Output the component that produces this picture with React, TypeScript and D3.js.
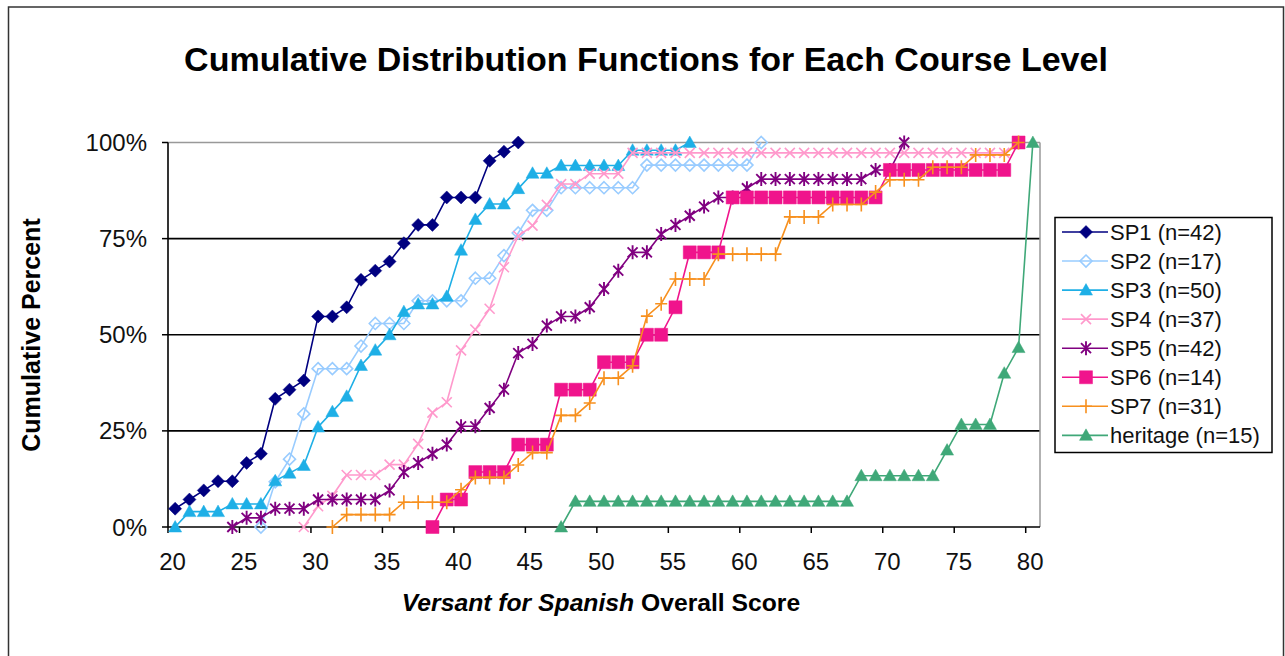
import React from 'react'
import * as d3 from 'd3'

// ---- data (cumulative counts per score) ----
const scores = d3.range(20, 81) // one category per integer score
const scoreTicks = [20, 25, 30, 35, 40, 45, 50, 55, 60, 65, 70, 75, 80]
const percentTicks = [0, 25, 50, 75, 100]

const sp1Start = 20
const sp1Counts = [2, 3, 4, 5, 5, 7, 8, 14, 15, 16, 23, 23, 24, 27, 28, 29, 31, 33, 33, 36, 36, 36, 40, 41, 42]

const sp2Start = 26
const sp2Counts = [0, 2, 3, 5, 7, 7, 7, 8, 9, 9, 9, 10, 10, 10, 10, 11, 11, 12, 13, 14, 14,
  15, 15, 15, 15, 15, 15, 16, 16, 16, 16, 16, 16, 16, 16, 17]

const sp3Start = 20
const sp3Counts = [0, 2, 2, 2, 3, 3, 3, 6, 7, 8, 13, 15, 17, 21, 23, 25, 28, 29, 29, 30, 36, 40,
  42, 42, 44, 46, 46, 47, 47, 47, 47, 47, 49, 49, 49, 49, 50]

const sp4Start = 29
const sp4Counts = [0, 2, 3, 5, 5, 5, 6, 6, 8, 11, 12, 17, 19, 21, 25, 28, 29, 31, 33, 33, 34, 34, 34,
  36, 36, 36, 36, 36, 36, 36, 36, 36, 36, 36, 36, 36, 36, 36, 36, 36, 36, 36, 36, 36, 36, 36, 36, 36, 36, 36,
  37]

const sp5Start = 24
const sp5Counts = [0, 1, 1, 2, 2, 2, 3, 3, 3, 3, 3, 4, 6, 7, 8, 9, 11, 11, 13, 15, 19, 20, 22, 23, 23,
  24, 26, 28, 30, 30, 32, 33, 34, 35, 36, 36, 37, 38, 38, 38, 38, 38, 38, 38, 38, 39, 39, 42]

const sp6Start = 38
const sp6Counts = [0, 1, 1, 2, 2, 2, 3, 3, 3, 5, 5, 5, 6, 6, 6, 7, 7, 8, 10, 10, 10,
  12, 12, 12, 12, 12, 12, 12, 12, 12, 12, 12, 13, 13, 13, 13, 13, 13, 13, 13, 13, 14]

const sp7Start = 31
const sp7Counts = [0, 1, 1, 1, 1, 2, 2, 2, 2, 3, 4, 4, 4, 5, 6, 6, 9, 9, 10, 12, 12, 13, 17, 18,
  20, 20, 20, 22, 22, 22, 22, 22, 25, 25, 25, 26, 26, 26, 27, 28, 28, 28, 29, 29, 29, 30, 30, 30, 31]

const heritageStart = 47
const heritageCounts = [0, 1, 1, 1, 1, 1, 1, 1, 1, 1, 1, 1, 1, 1, 1, 1, 1, 1, 1, 1, 1,
  2, 2, 2, 2, 2, 2, 3, 4, 4, 4, 6, 7, 15]

const seriesNames = ['SP1', 'SP2', 'SP3', 'SP4', 'SP5', 'SP6', 'SP7', 'heritage']
const seriesN = [42, 17, 50, 37, 42, 14, 31, 15]
const seriesStarts = [sp1Start, sp2Start, sp3Start, sp4Start, sp5Start, sp6Start, sp7Start, heritageStart]
const seriesCounts = [sp1Counts, sp2Counts, sp3Counts, sp4Counts, sp5Counts, sp6Counts, sp7Counts, heritageCounts]
const seriesColors = ['#000080', '#99CCFF', '#1EAFE6', '#FF99CC', '#800080', '#F0148C', '#F7901E', '#3FA878']
const seriesMarkers = ['diamond', 'openDiamond', 'triangle', 'x', 'asterisk', 'square', 'plus', 'triangle']

// ---- layout ----
const W = 1285, H = 656
const plot = { left: 168, right: 1040, top: 142.5, bottom: 527 }
const font = 'Arial, "Liberation Sans", Helvetica, sans-serif'

const markerPaths: Record<string, string> = {
  diamond: 'M0,-6.5L6.5,0L0,6.5L-6.5,0Z',
  openDiamond: 'M0,-6L6,0L0,6L-6,0Z',
  triangle: 'M0,-6.5L6.5,5L-6.5,5Z',
  square: 'M-6.5,-6.5h13v13h-13Z',
  x: 'M-5,-5L5,5M-5,5L5,-5',
  asterisk: 'M-5,-5L5,5M-5,5L5,-5M0,-7L0,7',
  plus: 'M-6,0L6,0M0,-7L0,7',
}

const Marker = ({ kind, color, x, y }: { kind: string; color: string; x: number; y: number }) => {
  const filled = kind === 'diamond' || kind === 'triangle' || kind === 'square'
  return (
    <path
      d={markerPaths[kind]}
      transform={`translate(${x},${y})`}
      fill={filled ? color : 'none'}
      stroke={color}
      strokeWidth={filled ? 0.5 : kind === 'asterisk' ? 1.9 : 1.6}
    />
  )
}

export default function App() {
  const x = d3.scaleBand<number>().domain(scores).range([plot.left, plot.right]).padding(0)
  const y = d3.scaleLinear().domain([0, 100]).range([plot.bottom, plot.top])
  const bw = x.bandwidth()
  const cx = (s: number) => (x(s) as number) + bw / 2

  const series = seriesNames.map((name, i) => ({
    name,
    n: seriesN[i],
    color: seriesColors[i],
    marker: seriesMarkers[i],
    points: seriesCounts[i].map((c, j) => ({ score: seriesStarts[i] + j, pct: (c / seriesN[i]) * 100 })),
  }))

  const line = d3.line<{ score: number; pct: number }>()
    .x(d => cx(d.score))
    .y(d => y(d.pct))

  const legend = { x: 1055, y: 217.5, w: 217, h: 235, row0: 232, rowH: 29.05 }

  return (
    <svg width={W} height={H} style={{ position: 'absolute', left: 0, top: 0, display: 'block' }} fontFamily={font}>
      <rect x={0} y={0} width={W} height={H} fill="#fff" />
      <rect x={8.5} y={7} width={1275} height={660} fill="none" stroke="#333" strokeWidth={1.5} />

      <text x={646} y={71} textAnchor="middle" fontSize={34} fontWeight="bold" fill="#000">
        Cumulative Distribution Functions for Each Course Level
      </text>

      {/* grid */}
      {percentTicks.filter(p => p > 0 && p < 100).map(p => (
        <line key={p} x1={plot.left} x2={plot.right} y1={y(p)} y2={y(p)} stroke="#000" strokeWidth={1.6} />
      ))}
      <line x1={plot.left} x2={plot.right} y1={plot.top} y2={plot.top} stroke="#999" strokeWidth={1.5} />
      <line x1={plot.right} x2={plot.right} y1={plot.top} y2={plot.bottom} stroke="#999" strokeWidth={1.5} />

      {/* y axis */}
      <line x1={plot.left} x2={plot.left} y1={plot.top} y2={plot.bottom} stroke="#000" strokeWidth={1.6} />
      {percentTicks.map(p => (
        <g key={p}>
          <line x1={plot.left - 6} x2={plot.left} y1={y(p)} y2={y(p)} stroke="#000" strokeWidth={1.5} />
          <text x={147} y={y(p) + 8.5} textAnchor="end" fontSize={24} fill="#111">{p}%</text>
        </g>
      ))}

      {/* x axis */}
      <line x1={plot.left} x2={plot.right} y1={plot.bottom} y2={plot.bottom} stroke="#000" strokeWidth={1.6} />
      {scoreTicks.map(s => (
        <g key={s}>
          <line x1={x(s)} x2={x(s)} y1={plot.bottom} y2={plot.bottom + 6} stroke="#000" strokeWidth={1.5} />
          <text x={(x(s) as number) + 4.5} y={570} textAnchor="middle" fontSize={24} fill="#111">{s}</text>
        </g>
      ))}

      <text x={601} y={611} textAnchor="middle" fontSize={24.7} fontWeight="bold" fill="#000">
        <tspan fontStyle="italic">Versant for Spanish</tspan> Overall Score
      </text>
      <text transform="translate(31,335) rotate(-90)" dy="0.35em" textAnchor="middle" fontSize={25} fontWeight="bold" fill="#000">
        Cumulative Percent
      </text>

      {/* series */}
      {series.map(s => (
        <g key={s.name}>
          <path d={line(s.points) || ''} fill="none" stroke={s.color} strokeWidth={1.6} />
          {s.points.map(p => (
            <Marker key={p.score} kind={s.marker} color={s.color} x={cx(p.score)} y={y(p.pct)} />
          ))}
        </g>
      ))}

      {/* legend */}
      <rect x={legend.x} y={legend.y} width={legend.w} height={legend.h} fill="#fff" stroke="#000" strokeWidth={1.5} />
      {series.map((s, i) => {
        const ry = legend.row0 + i * legend.rowH
        return (
          <g key={s.name}>
            <line x1={1062} x2={1108} y1={ry} y2={ry} stroke={s.color} strokeWidth={1.6} />
            <Marker kind={s.marker} color={s.color} x={1086} y={ry} />
            <text x={1110} y={ry} dy="0.36em" fontSize={22} fill="#111">{`${s.name} (n=${s.n})`}</text>
          </g>
        )
      })}
    </svg>
  )
}
